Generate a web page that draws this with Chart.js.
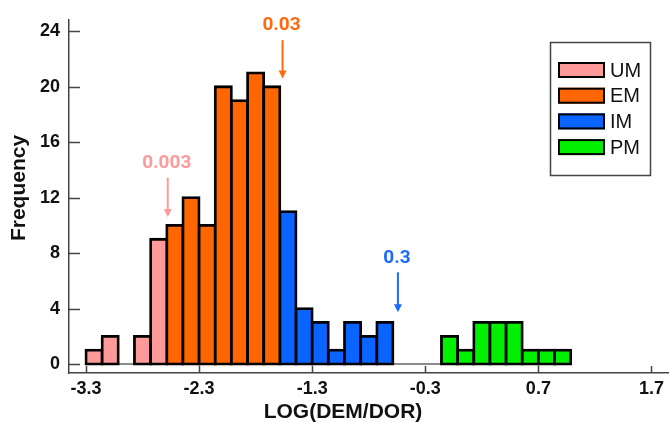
<!DOCTYPE html>
<html><head><meta charset="utf-8">
<script src="https://cdn.jsdelivr.net/npm/chart.js@4.4.0/dist/chart.umd.min.js"></script>
<style>html,body{margin:0;padding:0;background:#fff;overflow:hidden}</style>
</head><body>
<canvas id="c" width="669" height="423"></canvas>
<script>
// ---- data ----
const seriesNames = ['UM', 'EM', 'IM', 'PM'];
const umBins = [-3.2286, -3.0857, -2.8, -2.6571];
const umCounts = [1, 2, 2, 9];
const emBins = [-2.5143, -2.3714, -2.2286, -2.0857, -1.9429, -1.8, -1.6571];
const emCounts = [10, 12, 10, 20, 19, 21, 20];
const imBins = [-1.5143, -1.3714, -1.2286, -1.0857, -0.9429, -0.8, -0.6571];
const imCounts = [11, 4, 3, 1, 3, 2, 3];
const pmBins = [-0.0857, 0.0571, 0.2, 0.3429, 0.4857, 0.6286, 0.7714, 0.9143];
const pmCounts = [2, 1, 3, 3, 3, 1, 1, 1];
const xTicks = [-3.3, -2.3, -1.3, -0.3, 0.7, 1.7];
const yTicks = [0, 4, 8, 12, 16, 20, 24];
const xTitle = 'LOG(DEM/DOR)';
const yTitle = 'Frequency';
const markLabels = ['0.003', '0.03', '0.3'];
const markX = [-2.577, -1.562, -0.542];
const markTextY = [14.5, 24.44, 7.62];
const markTopY = [13.44, 23.36, 6.62];
const markTipY = [10.6, 20.6, 3.73];

const colors = ['#FF9A9A', '#FF6600', '#0A64FF', '#00F000'];
const markColors = ['#FF9A9A', '#FF6A10', '#1A6AFF'];
const bins = [umBins, emBins, imBins, pmBins];
const counts = [umCounts, emCounts, imCounts, pmCounts];

const datasets = seriesNames.map((name, s) => ({
  label: name,
  data: bins[s].map((x, i) => ({x: x, y: counts[s][i]})),
  backgroundColor: colors[s],
  borderColor: '#000',
  borderWidth: 2.8,
  inflateAmount: 1.4,
  borderSkipped: false,
  barPercentage: 1,
  categoryPercentage: 1,
  grouped: false
}));

const tickFont = {family: 'Liberation Sans', size: 18, weight: 'bold'};

const decor = {
  id: 'decor',
  beforeDatasetsDraw(chart) {
    const {ctx} = chart;
    const x = chart.scales.x, y = chart.scales.y;
    const y0 = y.getPixelForValue(0);
    ctx.save();
    ctx.strokeStyle = '#666';
    ctx.lineWidth = 1.5;
    ctx.beginPath();
    ctx.moveTo(x.getPixelForValue(umBins[0]), y0);
    ctx.lineTo(x.getPixelForValue(pmBins[pmBins.length - 1]), y0);
    ctx.stroke();
    ctx.restore();
  },
  afterDraw(chart) {
    const {ctx, chartArea: a} = chart;
    const x = chart.scales.x, y = chart.scales.y;
    ctx.save();
    // inward tick marks
    ctx.strokeStyle = '#444';
    ctx.lineWidth = 1.5;
    ctx.beginPath();
    xTicks.forEach(v => {
      const px = Math.round(x.getPixelForValue(v)) + 0.5;
      ctx.moveTo(px, a.bottom);
      ctx.lineTo(px, a.bottom - 7);
    });
    yTicks.forEach(v => {
      const py = Math.round(y.getPixelForValue(v)) + 0.5;
      ctx.moveTo(a.left, py);
      ctx.lineTo(a.left + 11, py);
    });
    ctx.stroke();

    // axis titles
    ctx.fillStyle = '#111';
    ctx.font = 'bold 21px "Liberation Sans"';
    ctx.textAlign = 'center';
    ctx.textBaseline = 'middle';
    ctx.fillText(xTitle, 343, 412);
    ctx.save();
    ctx.translate(19.5, 188);
    ctx.rotate(-Math.PI / 2);
    ctx.fillText(yTitle, 0, 0);
    ctx.restore();

    // annotations
    markLabels.forEach((lab, i) => {
      const px = x.getPixelForValue(markX[i]);
      ctx.fillStyle = markColors[i];
      ctx.strokeStyle = markColors[i];
      ctx.font = 'bold 19px Roboto';
      ctx.textAlign = 'center';
      ctx.textBaseline = 'middle';
      ctx.fillText(lab, px - 1, y.getPixelForValue(markTextY[i]));
      const top = y.getPixelForValue(markTopY[i]);
      const tip = y.getPixelForValue(markTipY[i]);
      ctx.lineWidth = 2;
      ctx.beginPath();
      ctx.moveTo(px, top);
      ctx.lineTo(px, tip - 6);
      ctx.stroke();
      ctx.beginPath();
      ctx.moveTo(px - 4, tip - 8);
      ctx.lineTo(px + 4, tip - 8);
      ctx.lineTo(px, tip);
      ctx.closePath();
      ctx.fill();
    });

    // legend box
    ctx.strokeStyle = '#444';
    ctx.lineWidth = 1.5;
    ctx.strokeRect(550.5, 42.5, 100, 133);
    chart.data.datasets.forEach((ds, i) => {
      const cy = 70 + i * 25.7;
      ctx.fillStyle = ds.backgroundColor;
      ctx.fillRect(558, cy - 8, 47, 16);
      ctx.strokeStyle = '#000';
      ctx.lineWidth = 2;
      ctx.strokeRect(559, cy - 7, 45, 14);
      ctx.fillStyle = '#111';
      ctx.font = '20px "Liberation Sans"';
      ctx.textAlign = 'left';
      ctx.textBaseline = 'middle';
      ctx.fillText(ds.label, 610, cy + 1);
    });
    ctx.restore();
  }
};

new Chart(document.getElementById('c'), {
  type: 'bar',
  data: {datasets: datasets},
  options: {
    responsive: false,
    animation: false,
    devicePixelRatio: 1,
    layout: {padding: {top: 18, right: 0, left: 0, bottom: 0}},
    plugins: {legend: {display: false}, tooltip: {enabled: false}},
    scales: {
      x: {
        type: 'linear',
        min: -3.45,
        max: 1.848,
        offset: false,
        grid: {display: false, drawTicks: false},
        border: {display: true, color: '#444', width: 1.5},
        afterBuildTicks: s => { s.ticks = xTicks.map(v => ({value: v})); },
        afterFit: s => { s.height = 50; },
        ticks: {padding: 5, color: '#111', font: tickFont, autoSkip: false, maxRotation: 0,
                callback: v => v.toFixed(1)},
        title: {display: false}
      },
      y: {
        min: -0.646,
        max: 24.83,
        grid: {display: false, drawTicks: false},
        border: {display: true, color: '#444', width: 1.5},
        afterBuildTicks: s => { s.ticks = yTicks.map(v => ({value: v})); },
        afterFit: s => { s.width = 69; },
        ticks: {padding: 9, color: '#111', font: tickFont, autoSkip: false},
        title: {display: false}
      }
    }
  },
  plugins: [decor]
});
</script>
</body></html>
